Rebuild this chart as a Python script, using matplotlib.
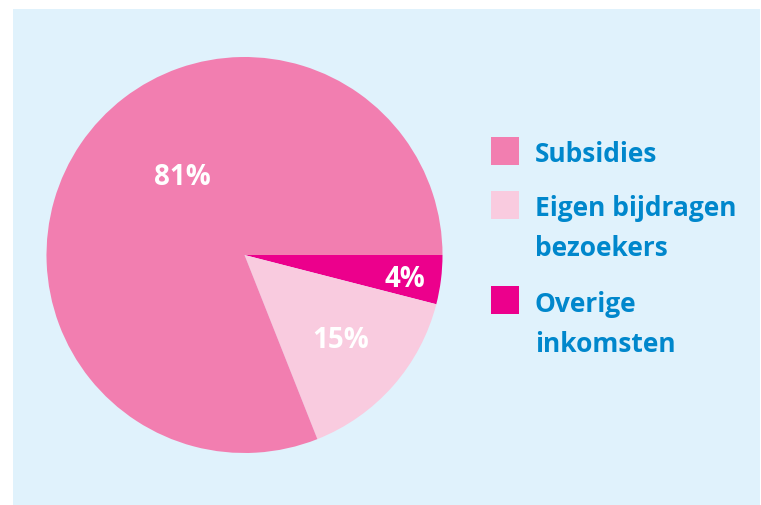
import numpy as np
import matplotlib as mpl
import matplotlib.pyplot as plt
from matplotlib.patches import Rectangle

mpl.rc('font', family=['Open Sans', 'DejaVu Sans'], weight='bold')

# data
categories = ['Overige\ninkomsten', 'Eigen bijdragen\nbezoekers', 'Subsidies']
shares = [4, 15, 81]
colors = ['#EC008C', '#F9CBDF', '#F27EB0']
legend_order = [2, 1, 0]

# label positions (distance from centre, angle in degrees) per slice
label_pos = [(0.817, -7.1), (0.636, -40.0), (0.519, 127.5)]

W, H = 761, 506
fig = plt.figure(figsize=(W / 100, H / 100), dpi=100)
fig.patch.set_facecolor('white')
fig.patches.append(Rectangle((13 / W, 0), (760 - 13) / W, (506 - 10) / H,
                             transform=fig.transFigure, facecolor='#E0F2FC',
                             edgecolor='none', zorder=-5))

cx, cy, r = 244.5, 256, 198
ax = fig.add_axes([(cx - r) / W, (H - cy - r) / H, 2 * r / W, 2 * r / H])
ax.set_zorder(2)

wedges, _ = ax.pie(shares, colors=colors, startangle=0, counterclock=False,
                   radius=1, wedgeprops=dict(linewidth=0))
ax.set_xlim(-1, 1)
ax.set_ylim(-1, 1)
ax.set_aspect('equal')
ax.axis('off')

for val, (d, a) in zip(shares, label_pos):
    ax.text(d * np.cos(np.radians(a)), d * np.sin(np.radians(a)), f'{val}%',
            ha='center', va='center_baseline', color='white', fontsize=20,
            fontweight='bold')

# legend drawn by hand
rows_y = [152, 206, 301]
for row, idx in zip(rows_y, legend_order):
    fig.patches.append(Rectangle((491 / W, (H - row - 14) / H), 28 / W, 28 / H,
                                 transform=fig.transFigure,
                                 facecolor=colors[idx], edgecolor='none'))
    lines = categories[idx].split('\n')
    for k, line in enumerate(lines):
        fig.text(535 / W, (H - row - k * 40) / H, line, color='#0087CC',
                 fontsize=19, fontweight='bold', ha='left', va='center_baseline')

plt.savefig('out.png', dpi=100)
